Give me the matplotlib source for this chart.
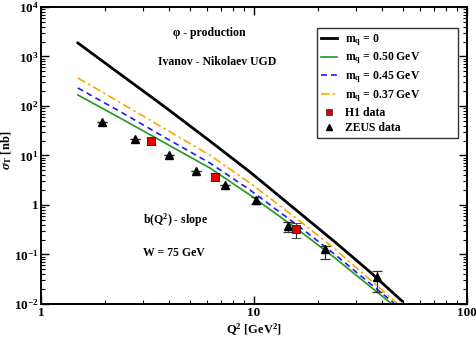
import math
import matplotlib
matplotlib.use("Agg")
import matplotlib.pyplot as plt
from matplotlib.lines import Line2D
from matplotlib.ticker import LogLocator, FuncFormatter, NullFormatter

plt.rcParams['font.family'] = 'Liberation Serif'
plt.rcParams['font.weight'] = 'bold'
plt.rcParams['axes.labelweight'] = 'bold'
plt.rcParams['mathtext.fontset'] = 'custom'
plt.rcParams['mathtext.rm'] = 'Liberation Serif:bold'
plt.rcParams['mathtext.it'] = 'Liberation Serif:italic:bold'
plt.rcParams['mathtext.bf'] = 'Liberation Serif:bold'

# model curves (Q^2 in GeV^2, sigma_T in nb)
q2_m0 = [1.49, 2.35, 3.82, 6.21, 9.58, 16.4, 24.0, 35.1, 49.5]
sig_m0 = [1875, 443, 95.5, 19.6, 4.64, 0.689, 0.179, 0.0443, 0.0115]

q2_m50 = [1.49, 2.35, 3.82, 6.21, 9.58, 16.4, 24.0, 44.4]
sig_m50 = [167, 57.3, 17.9, 5.58, 1.59, 0.299, 0.085, 0.0100]

q2_m45 = [1.49, 2.35, 3.82, 6.21, 9.58, 16.4, 24.0, 45.9]
sig_m45 = [231, 77.4, 23.1, 7.05, 2.01, 0.360, 0.100, 0.0100]

q2_m37 = [1.49, 2.35, 3.82, 6.21, 9.58, 16.4, 24.0, 47.4]
sig_m37 = [368, 118, 34.3, 10.2, 2.78, 0.475, 0.129, 0.0100]

# H1 data
h1_q2 = [3.28, 6.56, 15.7]
h1_sig = [19.6, 3.68, 0.327]
h1_lo = [16.3, 3.06, 0.215]
h1_hi = [22.6, 4.43, 0.432]

# ZEUS data
zeus_q2 = [1.93, 2.76, 3.99, 5.34, 7.3, 10.2, 14.4, 21.5, 37.8]
zeus_sig = [47.5, 21.5, 10.2, 4.86, 2.53, 1.26, 0.377, 0.129, 0.035]
zeus_lo = [47.5, 21.5, 10.2, 4.86, 2.53, 1.07, 0.285, 0.081, 0.0175]
zeus_hi = [47.5, 21.5, 10.2, 4.86, 2.53, 1.48, 0.454, 0.149, 0.046]

fig = plt.figure(figsize=(4.76, 3.38), dpi=100)
ax = fig.add_axes([0.0861, 0.1006, 0.8949, 0.8787])

ax.plot(q2_m0, sig_m0, color='black', lw=2.0)
ax.plot(q2_m50, sig_m50, color='#1f9a1f', lw=1.2)
ax.plot(q2_m45, sig_m45, color='#1a1aff', lw=1.2, ls=(0, (3.5, 2.5)))
ax.plot(q2_m37, sig_m37, color='#ffa500', lw=1.2, ls=(0, (5, 2, 1.5, 2)))

h1_err = [[s - l for s, l in zip(h1_sig, h1_lo)], [h - s for s, h in zip(h1_sig, h1_hi)]]
zeus_err = [[s - l for s, l in zip(zeus_sig, zeus_lo)], [h - s for s, h in zip(zeus_sig, zeus_hi)]]

ax.errorbar(zeus_q2, zeus_sig, yerr=zeus_err, fmt='^', color='black', ms=5.8,
            ecolor='#333333', elinewidth=0.9, capsize=3.5, capthick=0.9, zorder=5)
ax.errorbar(h1_q2, h1_sig, yerr=h1_err, fmt='s', mfc='#e00000', mec='#222222', mew=0.6, ms=5.5,
            ecolor='#333333', elinewidth=0.9, capsize=3.5, capthick=0.9, zorder=6)

ax.set_xscale('log')
ax.set_yscale('log')
ax.set_xlim(1, 100)
ax.set_ylim(1e-2, 1e4)

ax.xaxis.set_major_locator(LogLocator(base=10, numticks=10))
ax.xaxis.set_minor_locator(LogLocator(base=10, subs=range(2, 10), numticks=20))
ax.yaxis.set_major_locator(LogLocator(base=10, numticks=10))
ax.yaxis.set_minor_locator(LogLocator(base=10, subs=range(2, 10), numticks=20))
ax.xaxis.set_minor_formatter(NullFormatter())
ax.yaxis.set_minor_formatter(NullFormatter())


def xfmt(v, pos):
    return '%d' % round(v)


def yfmt(v, pos):
    if abs(v - 1) < 1e-9:
        return '1'
    return r'10$^{%d}$' % int(round(math.log10(v)))


ax.xaxis.set_major_formatter(FuncFormatter(xfmt))
ax.yaxis.set_major_formatter(FuncFormatter(yfmt))

ax.tick_params(which='both', direction='in', top=True, right=True, labelsize=9.5)
ax.tick_params(axis='x', which='major', pad=2)
ax.tick_params(axis='y', which='major', pad=1.5)
ax.tick_params(which='major', length=6, width=1.0)
ax.tick_params(which='minor', length=3, width=0.8)
for s in ax.spines.values():
    s.set_linewidth(1.4)

ax.set_xlabel(r'Q$^2$ [GeV$^2$]', fontsize=9, fontweight='bold')
ax.set_ylabel(r'$\sigma_{\rm T}$ [nb]', fontsize=9, fontweight='bold')
ax.xaxis.set_label_coords(0.5, (304 - 322) / 297)
ax.yaxis.set_label_coords((14 - 41) / 426, (304 - 150) / 297)


def axpos(px, py):
    return (px - 41) / 426, (304 - py) / 297


tr = ax.transAxes
ax.text(*axpos(209, 33), 'φ - production', transform=tr, fontsize=8.5, ha='center', va='center')
ax.text(*axpos(217, 62), 'Ivanov - Nikolaev UGD', transform=tr, fontsize=8.5, ha='center', va='center')
ax.text(*axpos(143, 220), r'b(Q$^2$) - slope', transform=tr, fontsize=8.5, ha='left', va='center')
ax.text(*axpos(143, 253), 'W = 75 GeV', transform=tr, fontsize=8.5, ha='left', va='center')

handles = [
    Line2D([], [], color='black', lw=2.0),
    Line2D([], [], color='#1f9a1f', lw=1.2),
    Line2D([], [], color='#1a1aff', lw=1.2, ls=(0, (3.5, 2.5))),
    Line2D([], [], color='#ffa500', lw=1.2, ls=(0, (5, 2, 1.5, 2))),
    Line2D([], [], ls='none', marker='s', ms=4, mfc='#e00000', mec='#222222', mew=0.5),
    Line2D([], [], ls='none', marker='^', ms=4.5, color='black'),
]
labels = [r'm$_{\rm q}$ = 0', r'm$_{\rm q}$ = 0.50 GeV', r'm$_{\rm q}$ = 0.45 GeV',
          r'm$_{\rm q}$ = 0.37 GeV', 'H1 data', 'ZEUS data']
x0, y0 = axpos(317, 28)
leg = ax.legend(handles, labels, loc='upper left',
                bbox_to_anchor=(x0, y0 - 0.4, (458 - 317) / 426, 0.4), mode='expand',
                borderaxespad=0, fontsize=8.5, frameon=True, fancybox=False,
                edgecolor='black', handlelength=1.35, labelspacing=0.25,
                borderpad=0.35, handletextpad=0.7)
leg.get_frame().set_linewidth(1.0)

fig.savefig('out.png', dpi=100)
